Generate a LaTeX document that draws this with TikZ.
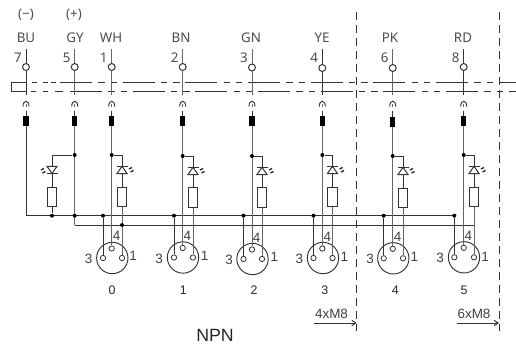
\documentclass[tikz,border=0pt]{standalone}
\usepackage{fontspec}
\setmainfont{Liberation Sans}
\newfontfamily\topfont{Noto Sans}
\definecolor{wa}{HTML}{333333}
\definecolor{wb}{HTML}{666666}
\tikzset{
 wire/.style={line width=0.75pt,color=#1},
 wire/.default=wa,
 bus/.style={line width=0.75pt,color=wa,dash pattern=on 24pt off 4.7pt on 4.7pt off 4.7pt on 4.7pt off 4.2pt},
 frame/.style={line width=0.75pt,color=wa,dash pattern=on 6pt off 3.75pt},
 seg/.style={line width=0.75pt,color=wa},
 topcirc/.style={circle,draw=wa,line width=0.75pt,inner sep=0pt,minimum size=5.2pt,fill=none},
 pinc/.style={circle,draw=wa,line width=0.6pt,inner sep=0pt,minimum size=4pt},
 conn/.style={circle,draw=wa,line width=0.7pt,inner sep=0pt,minimum size=23.5pt},
 res/.style={rectangle,draw=wa,line width=0.7pt,inner sep=0pt,minimum width=7.2pt,minimum height=14.5pt,fill=white},
 fuse/.style={rectangle,fill=black,inner sep=0pt,minimum width=3.8pt,minimum height=7pt},
 jdot/.style={circle,fill=black,inner sep=0pt,minimum size=3pt},
 toplab/.style={text=black!70,font=\topfont\fontsize{10}{12}\selectfont,inner sep=0pt},
 numlab/.style={text=black!75,font=\fontsize{10.1}{12}\selectfont,inner sep=0pt},
 botlab/.style={text=black!85,font=\fontsize{9.3}{11}\selectfont,inner sep=0pt},
 arr/.style={line width=0.75pt,color=wa,-{Straight Barb[length=3pt,width=4pt]}},
 ray/.style={line width=1.1pt,color=wa},
}
\usetikzlibrary{arrows.meta}
\begin{document}
\begin{tikzpicture}[x=0.75pt,y=-0.75pt]
\useasboundingbox (0,0) rectangle (516,346);
% frame lines
\coordinate (fa1) at (356.7,12); \coordinate (fa2) at (356.7,331);
\coordinate (fb1) at (499,12); \coordinate (fb2) at (499,331);
\draw[frame] (fa1) -- (fa2);
\draw[frame] (fb1) -- (fb2);
% screen lines
\coordinate (sl) at (11,82); \coordinate (sll) at (11,91);
\coordinate (sc) at (26,82); \coordinate (scc) at (26,91);
\draw[seg] (sc) -- (sl) -- (sll) -- (scc);
\foreach \a/\b in {32/37,43/48,51/56} \draw[seg] (\a,82) -- (\b,82);
\foreach \a/\b in {31/36,43/48,55/63} \draw[seg] (\a,91) -- (\b,91);
\coordinate (su) at (60,82); \coordinate (sue) at (516,82);
\coordinate (sd) at (70,91); \coordinate (sde) at (516,91);
\draw[bus] (su) -- (sue);
\draw[bus] (sd) -- (sde);
% eight wires, upper part
\foreach \n/\x/\lab/\lx/\num/\cy/\fy/\col in {
  a/26/BU/26/7/67/116/wa, b/74.7/GY/75/5/67/116/wb, c/111.7/WH/111/1/67/116/wb,
  d/182.7/BN/181/2/67/116/wb, e/252/GN/251/3/67.5/116/wb, f/322.3/YE/322/4/68/116/wa,
  g/392.7/PK/390/6/68/117/wb, h/463.7/RD/463/8/67/116/wa}{
  \coordinate (t\n) at (\x,49);
  \coordinate (m\n) at (\x,95);
  \node[topcirc] (o\n) at (\x,\cy) {};
  \node[toplab] (l\n) at (\lx,38) {\lab};
  \node[toplab] (k\n) at (\x-8,57.5) {\num};
  \draw[wire=\col] (t\n) -- (o\n) -- (m\n);
  \draw[wire=wa,line width=0.7pt] (\x-3,106.5) .. controls (\x-3,99.5) and (\x+3,99.5) .. (\x+3,106.5);
  \coordinate (s1\n) at (\x,104); \coordinate (s2\n) at (\x,107);
  \draw[wire=wb,line width=0.7pt] (s1\n) -- (s2\n);
  \coordinate (s3\n) at (\x,110.5);
  \node[fuse,anchor=north] (z\n) at (\x,\fy) {};
  \draw[wire=wa] (s3\n) -- (z\n);
}
\node[toplab] (minus) at (26,15) {(−)};
\node[toplab] (plus) at (74,15) {(+)};
% common lines
\coordinate (bu1) at (26,215.7); \coordinate (bu2) at (454.3,215.7);
\coordinate (bv1) at (74.7,225); \coordinate (bv2) at (473.7,225);
\draw[wire=wa] (za) -- (bu1) -- (bu2);
\draw[wire=wb] (zb) -- (bv1);
\draw[wire=wa] (bv1) -- (bv2);
% supply LED
\node[jdot] (jg) at (74.7,155) {};
\coordinate (lc) at (52,155);
\node[res] (r9) at (52,197) {};
\node[jdot] (jr) at (52,215.7) {};
\node[jdot] (jv) at (74.7,215.7) {};
\draw[wire=wa] (jg) -- (lc) -- (r9) -- (jr);
\draw[wire=wa,fill=white] (47,166.3) -- (57,166.3) -- (52,173.5) -- cycle;
\draw[wire=wa] (46.5,173.5) -- (57.5,173.5);
\draw[ray] (41,170) -- (44,168.5);
\draw[ray] (42.5,173) -- (45.5,171.5);
% six channels
\foreach \i/\n/\w/\r/\p/\cx/\cy/\by/\ta/\ua/\va/\tb/\ub/\tc/\uc/\td/\ud/\dg/\ry in {
  0/c/111.7/122/103/112.3/258/155/116.7/236/88.7/133/256/112/290.5/0/0/0/197,
  1/d/182.7/193/174/183/257.5/156/187.3/236/159/204.7/256/183.3/290.5/1/0/1/197.5,
  2/e/252/262/243.5/252.5/259/156/256.7/238/229/274.3/257/254/290.5/2/0/2/197.5,
  3/f/322.3/332.5/313.5/323/258/155/327.3/237/299.3/344.3/257/324.7/290.5/3/0/3/197,
  4/g/392.7/403/383.7/393.3/258.3/156/397.7/237/370/414.3/257/395.3/290.5/4/0/4/198,
  5/h/463.7/474/454.3/464/257.3/155/468.3/236/440/485/257/464/290.5/5/0/5/197}{
  \node[conn] (con\i) at (\cx,\cy) {};
  \node[pinc] (pf\i) at (\w,\cy-9.5) {};
  \node[pinc] (pt\i) at (\p,\cy) {};
  \node[pinc] (po\i) at (\r,\cy) {};
  \node[jdot] (jw\i) at (\w,\by) {};
  \node[jdot] (jb\i) at (\p,215.7) {};
  \coordinate (lc\i) at (\r,\by);
  \node[res] (rs\i) at (\r,\ry) {};
  \draw[wire=wb] (z\n) -- (jw\i) -- (pf\i);
  \draw[wire=wa] (jw\i) -- (lc\i) -- (rs\i);
  \draw[wire=wb] (rs\i) -- (po\i);
  \draw[wire=wa] (jb\i) -- (pt\i);
  \draw[wire=wa,fill=white] (\r,\by+11.3) -- (\r+5,\by+18.5) -- (\r-5,\by+18.5) -- cycle;
  \draw[wire=wa] (\r-5.5,\by+11.3) -- (\r+5.5,\by+11.3);
  \draw[ray] (\r+7,\by+14) -- (\r+10,\by+12.5);
  \draw[ray] (\r+8.5,\by+17) -- (\r+11.5,\by+15.5);
  \node[numlab] (n4\i) at (\ta,\ua) {4};
  \node[numlab] (n3\i) at (\va,\cy+1) {3};
  \node[numlab] (n1\i) at (\tb,\ub) {1};
  \node[botlab] (dg\i) at (\tc,\uc) {\dg};
}
\node[jdot] (jq) at (122,225) {};
% arrows
\coordinate (aa) at (314,323); \node[coordinate] (ab) at (356.7,323) {};
\coordinate (ac) at (457,323); \node[coordinate] (ad) at (499,323) {};
\draw[arr] (aa) -- (ab);
\draw[arr] (ac) -- (ad);
\node[numlab] (m4) at (331.5,314) {4xM8};
\node[numlab] (m6) at (474,314) {6xM8};
\node[text=black!85,font=\fontsize{13.3}{15}\selectfont,inner sep=0pt] (npn) at (215,335) {NPN};
\end{tikzpicture}
\end{document}
